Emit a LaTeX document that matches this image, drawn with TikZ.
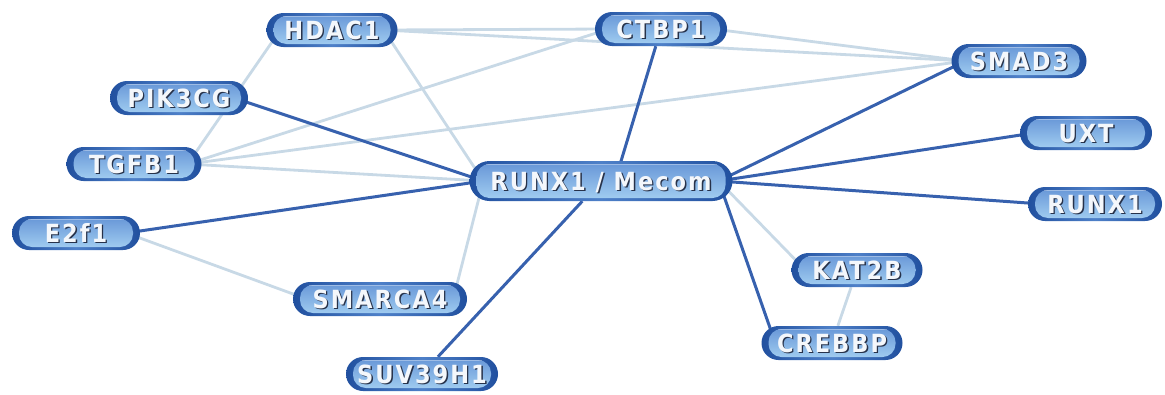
\documentclass[tikz,border=0pt]{standalone}
\usepackage{fontspec}
\setmainfont{DejaVu Sans}
\newfontfamily\pillfont{DejaVu Sans Condensed}[BoldFont={DejaVu Sans Condensed Bold}, LetterSpace=8]
\usetikzlibrary{backgrounds}

\definecolor{pillrim}{HTML}{21509F}
\definecolor{pillmid}{HTML}{4E80C8}
\definecolor{pilltop}{HTML}{6594D6}
\definecolor{pillbot}{HTML}{A4D0F2}
\definecolor{strongedge}{HTML}{3761AE}
\definecolor{weakedge}{HTML}{C8D9E6}
\definecolor{txtshadow}{HTML}{27324A}
\definecolor{txtface}{HTML}{F4F7FB}

% light label with a dark drop shadow
\newcommand\pilltext[1]{\makebox[0pt][l]{\hspace{1.4pt}\raisebox{-1.4pt}{\textcolor{txtshadow}{#1}}}\textcolor{txtface}{#1}}

\tikzset{
  pill/.style={rectangle, rounded corners=17pt,
    left color=pillrim, right color=pillrim, middle color=pillmid,
    minimum width=#1, minimum height=34pt, inner xsep=4pt, inner ysep=0pt,
    text height=18pt, text depth=0pt,
    font=\pillfont\bfseries\fontsize{25pt}{25pt}\selectfont,
    path picture={
      \shade[top color=pilltop, bottom color=pillbot, rounded corners=13pt]
        ([xshift=7pt,yshift=3pt]path picture bounding box.south west) rectangle
        ([xshift=-7pt,yshift=-3pt]path picture bounding box.north east);
      \draw[white, opacity=.35, line width=1pt]
        ([xshift=16pt,yshift=-3.5pt]path picture bounding box.north west) --
        ([xshift=-16pt,yshift=-3.5pt]path picture bounding box.north east);
    }},
  pill/.default=132pt,
  hub/.style={pill=263pt, minimum height=40pt, rounded corners=20pt},
  strong/.style={draw=strongedge, line width=3pt},
  weak/.style={draw=weakedge, line width=2.8pt},
}

\begin{document}
\begin{tikzpicture}[x=1pt, y=-1pt]
  \useasboundingbox (0,0) rectangle (1165,394);

  % genes
  \node[pill=131pt] (hdac)   at (332,30)   {\pilltext{HDAC1}};
  \node[pill=132pt] (ctbp)   at (661,29)   {\pilltext{CTBP1}};
  \node[pill=135pt] (smad)   at (1019,61)  {\pilltext{SMAD3}};
  \node[pill=138pt] (pik)    at (179,98)   {\pilltext{PIK3CG}};
  \node[pill=132pt] (uxt)    at (1086,133) {\pilltext{UXT}};
  \node[pill=135pt] (tgfb)   at (134,164)  {\pilltext{TGFB1}};
  \node[hub]        (mecom)  at (601,181)  {\pilltext{RUNX1 / Mecom}};
  \node[pill=134pt] (runx)   at (1095,204) {\pilltext{RUNX1}};
  \node[pill=128pt] (e2f)    at (76,233)   {\pilltext{E2f1}};
  \node[pill=131pt] (kat)    at (857,270)  {\pilltext{KAT2B}};
  \node[pill=174pt] (smarca) at (380,299)  {\pilltext{SMARCA4}};
  \node[pill=141pt] (crebbp) at (832,343)  {\pilltext{CREBBP}};
  \node[pill=152pt] (suv)    at (422,374)  {\pilltext{SUV39H1}};

  % interactions, behind the genes
  \begin{scope}[on background layer]
    \coordinate (hubL) at ([xshift=14pt]mecom.west);
    \coordinate (hubR) at ([xshift=-14pt]mecom.east);

    % weak links
    \draw[weak] ([xshift=-14pt]hdac.east) -- ([xshift=14pt]ctbp.west);
    \draw[weak] ([xshift=-14pt]hdac.east) -- ([xshift=14pt]smad.west);
    \draw[weak] ([xshift=-14pt]hdac.east) -- (hubL);
    \draw[weak] ([xshift=14pt]hdac.west) -- ([xshift=-14pt]tgfb.east);
    \draw[weak] ([xshift=-14pt]tgfb.east) -- ([xshift=14pt]ctbp.west);
    \draw[weak] ([xshift=-14pt]tgfb.east) -- ([xshift=14pt]smad.west);
    \draw[weak] ([xshift=-14pt]tgfb.east) -- (hubL);
    \draw[weak] ([xshift=-14pt]ctbp.east) -- ([xshift=14pt]smad.west);
    \draw[weak] ([xshift=-14pt]e2f.east) -- ([xshift=14pt]smarca.west);
    \draw[weak] ([xshift=-14pt]smarca.east) -- (hubL);
    \draw[weak] (kat) -- (crebbp);
    \draw[weak] ([xshift=14pt]kat.west) -- (hubR);

    % strong links
    \draw[strong] (ctbp) -- ([xshift=14pt]mecom.center);
    \draw[strong] (hubR) -- ([xshift=14pt]smad.west);
    \draw[strong] (hubR) -- ([xshift=14pt]uxt.west);
    \draw[strong] (hubR) -- ([xshift=14pt]runx.west);
    \draw[strong] (hubR) -- ([xshift=14pt]crebbp.west);
    \draw[strong] (hubL) -- ([xshift=-14pt]pik.east);
    \draw[strong] (hubL) -- ([xshift=-14pt]e2f.east);
    \draw[strong] (suv) -- (mecom);
  \end{scope}
\end{tikzpicture}
\end{document}
